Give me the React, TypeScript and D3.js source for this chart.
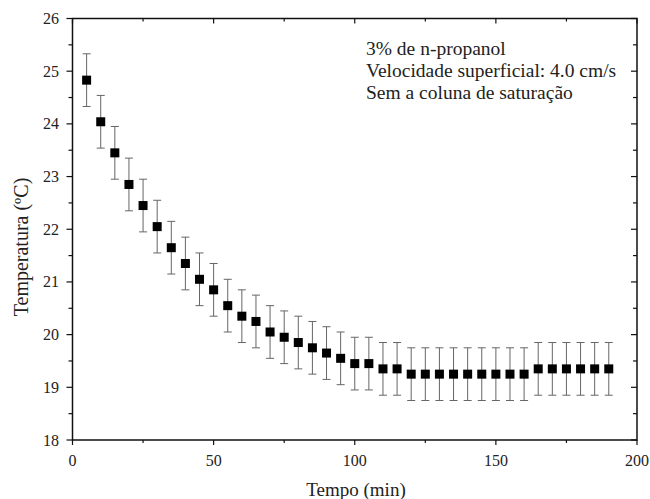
import React from "react";
import * as d3 from "d3";

const times = [5,10,15,20,25,30,35,40,45,50,55,60,65,70,75,80,85,90,95,100,105,110,115,120,125,130,135,140,145,150,155,160,165,170,175,180,185,190];
const temps = [24.83,24.04,23.45,22.85,22.45,22.05,21.65,21.35,21.05,20.85,20.55,20.35,20.25,20.05,19.95,19.85,19.75,19.65,19.55,19.45,19.45,19.35,19.35,19.25,19.25,19.25,19.25,19.25,19.25,19.25,19.25,19.25,19.35,19.35,19.35,19.35,19.35,19.35];
const errs = times.map(() => 0.5);
const xTicks = [0, 50, 100, 150, 200];
const yTicks = [18, 19, 20, 21, 22, 23, 24, 25, 26];
const annotation = ["3% de n-propanol", "Velocidade superficial: 4.0 cm/s", "Sem a coluna de saturação"];

const W = 650, H = 499;
const L = 72.5, R = 637, T = 18.5, B = 440;

export default function App() {
  const x = d3.scaleLinear().domain([0, 200]).range([L, R]);
  const y = d3.scaleLinear().domain([18, 26]).range([B, T]);
  const font = "'Liberation Serif', 'Times New Roman', serif";
  const xMinor = d3.range(25, 200, 50);
  const yMinor = d3.range(18.5, 26, 1);
  const ms = 9;
  return (
    <svg width={W} height={H} style={{ position: "absolute", left: 0, top: 0, background: "#fff" }} fontFamily={font}>
      {/* error bars */}
      <g stroke="#666" strokeWidth={1}>
        {times.map((t, i) => (
          <g key={i}>
            <line x1={x(t)} x2={x(t)} y1={y(temps[i] + errs[i])} y2={y(temps[i] - errs[i])} />
            <line x1={x(t) - 4} x2={x(t) + 4} y1={y(temps[i] + errs[i])} y2={y(temps[i] + errs[i])} />
            <line x1={x(t) - 4} x2={x(t) + 4} y1={y(temps[i] - errs[i])} y2={y(temps[i] - errs[i])} />
          </g>
        ))}
      </g>
      {/* markers */}
      <g fill="#000">
        {times.map((t, i) => (
          <rect key={i} x={x(t) - ms / 2} y={y(temps[i]) - ms / 2} width={ms} height={ms} />
        ))}
      </g>
      {/* frame */}
      <rect x={L} y={T} width={R - L} height={B - T} fill="none" stroke="#111" strokeWidth={1.5} />
      {/* ticks */}
      <g stroke="#111" strokeWidth={1.2}>
        {xTicks.map(v => (
          <g key={"x" + v}>
            <line x1={x(v)} x2={x(v)} y1={B} y2={B + 5} />
            <line x1={x(v)} x2={x(v)} y1={T} y2={T + 5} />
          </g>
        ))}
        {xMinor.map(v => (
          <g key={"xm" + v}>
            <line x1={x(v)} x2={x(v)} y1={B} y2={B + 3} />
            <line x1={x(v)} x2={x(v)} y1={T} y2={T + 3} />
          </g>
        ))}
        {yTicks.map(v => (
          <g key={"y" + v}>
            <line x1={L - 6} x2={L} y1={y(v)} y2={y(v)} />
            <line x1={R - 6} x2={R} y1={y(v)} y2={y(v)} />
          </g>
        ))}
        {yMinor.map(v => (
          <g key={"ym" + v}>
            <line x1={L - 4} x2={L} y1={y(v)} y2={y(v)} />
            <line x1={R - 4} x2={R} y1={y(v)} y2={y(v)} />
          </g>
        ))}
      </g>
      {/* tick labels */}
      <g fontSize={16} fill="#222">
        {xTicks.map(v => (
          <text key={"xl" + v} x={x(v)} y={466} textAnchor="middle">{v}</text>
        ))}
        {yTicks.map(v => (
          <text key={"yl" + v} x={59} y={y(v) + 5.5} textAnchor="end">{v}</text>
        ))}
      </g>
      {/* axis titles */}
      <text x={356} y={496} textAnchor="middle" fontSize={19} fill="#222">Tempo (min)</text>
      <text transform={`translate(28, 247) rotate(-90)`} textAnchor="middle" fontSize={20} fill="#222">Temperatura (ºC)</text>
      {/* annotation */}
      <g fontSize={19.5} fill="#222">
        {annotation.map((s, i) => (
          <text key={i} x={366} y={55 + i * 22}>{s}</text>
        ))}
      </g>
    </svg>
  );
}
